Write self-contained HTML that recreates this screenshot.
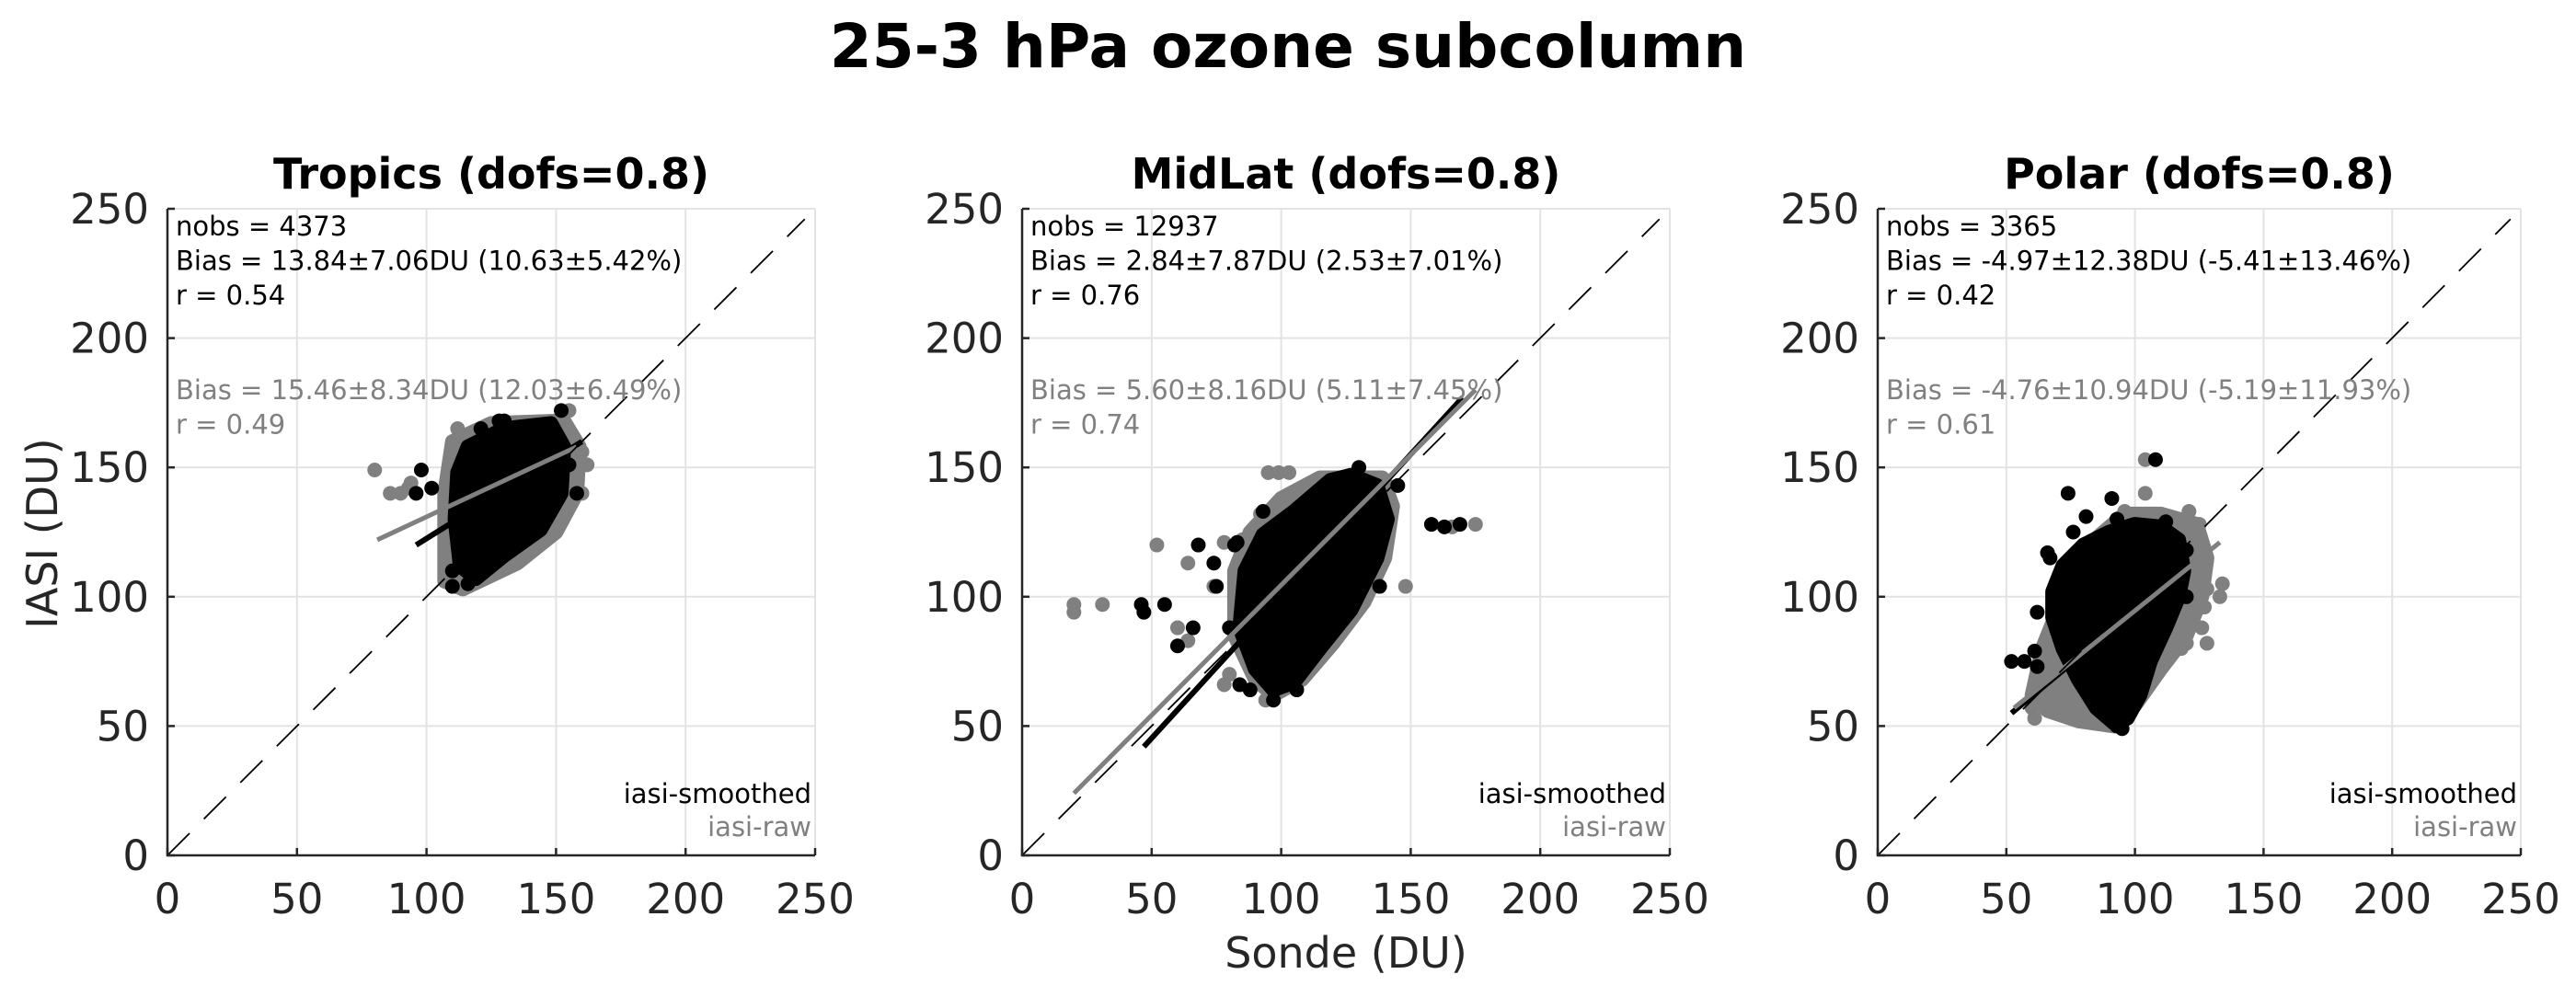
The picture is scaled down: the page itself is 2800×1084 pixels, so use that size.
<!DOCTYPE html>
<html><head><meta charset="utf-8">
<style>
html,body{margin:0;padding:0;background:#fff;}
svg{display:block;font-family:"DejaVu Sans","Liberation Sans",sans-serif;}
</style></head>
<body>
<svg id="fig" width="2800" height="1084" viewBox="0 0 2800 1084" xmlns="http://www.w3.org/2000/svg">
<rect width="2800" height="1084" fill="#fff"/>
<text x="1400" y="73" text-anchor="middle" font-size="66" font-weight="bold" fill="#000">25-3 hPa ozone subcolumn</text>
<text transform="translate(62,580) rotate(-90)" text-anchor="middle" font-size="46" fill="#262626">IASI (DU)</text>
<text x="1463" y="1052" text-anchor="middle" font-size="46" fill="#262626">Sonde (DU)</text>
<g id="panels"></g>
</svg>
<script>
const ticks = [0, 50, 100, 150, 200, 250];
const titles = ["Tropics (dofs=0.8)", "MidLat (dofs=0.8)", "Polar (dofs=0.8)"];
const statsSmoothed = [
  ["nobs = 4373", "Bias = 13.84±7.06DU (10.63±5.42%)", "r = 0.54"],
  ["nobs = 12937", "Bias = 2.84±7.87DU (2.53±7.01%)", "r = 0.76"],
  ["nobs = 3365", "Bias = -4.97±12.38DU (-5.41±13.46%)", "r = 0.42"]
];
const statsRaw = [
  ["Bias = 15.46±8.34DU (12.03±6.49%)", "r = 0.49"],
  ["Bias = 5.60±8.16DU (5.11±7.45%)", "r = 0.74"],
  ["Bias = -4.76±10.94DU (-5.19±11.93%)", "r = 0.61"]
];
const rawCore = [
  [[107,106],[114,103],[135,113],[150,125],[158,140],[159,158],[153,168],[125,167],[110,160],[107,140]],
  [[82,85],[90,68],[97,62],[108,68],[120,82],[132,98],[140,115],[143,135],[139,146],[115,146],[100,138],[88,125],[82,110]],
  [[60,62],[66,56],[78,52],[92,50],[100,58],[110,72],[120,85],[126,100],[128,115],[124,128],[110,132],[96,132],[82,120],[72,100],[64,80]]
];
const smoothCore = [
  [[113,112],[119,107],[130,116],[144,126],[152,140],[153,158],[148,167],[130,165],[116,158],[112,148],[111,130]],
  [[84,88],[90,72],[97,64],[105,67],[115,80],[127,95],[137,115],[141,130],[137,143],[127,147],[119,145],[105,133],[93,124],[86,110]],
  [[68,102],[72,112],[80,120],[90,125],[100,128],[110,127],[117,122],[119,110],[117,100],[112,88],[106,75],[102,62],[97,53],[92,51],[85,57],[78,68],[72,80],[68,92]]
];
const rawPoints = [
  [[80,149],[86,140],[90,140],[93,142],[94,144],[108,110],[108,113],[110,104],[112,104],[112,165],[160,156],[162,151],[160,140],[155,172],[118,158],[150,165]],
  [[20,97],[20,94],[31,97],[52,120],[64,113],[60,88],[64,83],[74,104],[78,121],[80,70],[78,66],[94,60],[92,132],[95,148],[148,104],[166,127],[175,128],[141,143],[85,122],[106,67],[99,148],[103,148]],
  [[60,57],[61,53],[104,153],[104,140],[96,133],[121,133],[125,128],[126,112],[128,103],[127,96],[126,88],[134,105],[133,100],[110,80],[118,80],[120,82],[128,82],[66,80],[64,70]]
];
const smoothPoints = [
  [[96,140],[98,149],[102,142],[110,110],[110,104],[116,105],[121,165],[128,168],[152,172],[155,151],[158,140],[142,128],[130,168],[148,166]],
  [[46,97],[47,94],[55,97],[68,120],[74,113],[60,81],[66,88],[75,104],[83,121],[82,120],[80,88],[84,66],[88,64],[97,60],[106,64],[138,104],[158,128],[163,127],[169,128],[145,143],[93,133],[130,150]],
  [[52,75],[57,75],[61,79],[62,73],[66,117],[67,115],[74,140],[76,125],[81,131],[91,138],[93,130],[74,105],[62,94],[69,90],[108,153],[112,129],[120,100],[120,118],[93,50],[95,49]]
];
const rawFit = [[[81,122],[158,158]], [[20,24],[175,180]], [[53,57],[133,121]]];
const smoothFit = [[[96,120],[160,160]], [[47,42],[170,177]], [[52,55],[120,111]]];

const NS = "http://www.w3.org/2000/svg";
const boxes = [[182,886],[1111,1815],[2041,2740]];
const top0 = 227, bot0 = 930;
const root = document.getElementById("panels");
function mk(tag, attrs, parent){
  const e = document.createElementNS(NS, tag);
  for (const k in attrs) e.setAttribute(k, attrs[k]);
  parent.appendChild(e);
  return e;
}
for (let p = 0; p < 3; p++) {
  const L = boxes[p][0], R = boxes[p][1];
  const sx = v => L + v / 250 * (R - L);
  const sy = v => bot0 - v / 250 * (bot0 - top0);
  const g = mk("g", {}, root);
  
  
  ticks.forEach(t => {
    const gx = mk("line", {x1:sx(t),x2:sx(t),y1:top0,y2:bot0,stroke:"#e3e3e3","stroke-width":2}, g);
    
    
    const gy = mk("line", {x1:L,x2:R,y1:sy(t),y2:sy(t),stroke:"#e3e3e3","stroke-width":2}, g);
    
    
  });
  const pts = a => a.map(q => sx(q[0]) + "," + sy(q[1])).join(" ");
  const rc = mk("polygon", {points:pts(rawCore[p]), fill:"#808080", stroke:"#808080","stroke-width":16,"stroke-linejoin":"round"}, g);
  
  
  rawPoints[p].forEach(q => {
    const c = mk("circle", {cx:sx(q[0]), cy:sy(q[1]), r:8, fill:"#808080"}, g);
    
    
  });
  const sc = mk("polygon", {points:pts(smoothCore[p]), fill:"#000", stroke:"#000","stroke-width":16,"stroke-linejoin":"round"}, g);
  
  
  smoothPoints[p].forEach(q => {
    const c = mk("circle", {cx:sx(q[0]), cy:sy(q[1]), r:8, fill:"#000"}, g);
    
    
  });
  const bf = smoothFit[p];
  const bl = mk("line", {x1:sx(bf[0][0]),y1:sy(bf[0][1]),x2:sx(bf[1][0]),y2:sy(bf[1][1]),stroke:"#000","stroke-width":6}, g);
  
  
  const gf = rawFit[p];
  const gl = mk("line", {x1:sx(gf[0][0]),y1:sy(gf[0][1]),x2:sx(gf[1][0]),y2:sy(gf[1][1]),stroke:"#808080","stroke-width":5}, g);
  
  
  const d = mk("line", {x1:sx(0),y1:sy(0),x2:sx(246),y2:sy(246),stroke:"#000","stroke-width":1.8,"stroke-dasharray":"34 22"}, g);
  
  
  const ax = mk("path", {d:`M${L},${top0}V${bot0}H${R}`, fill:"none", stroke:"#262626","stroke-width":2.5}, g);
  
  
  ticks.forEach(t => {
    const tx = mk("line", {x1:sx(t),x2:sx(t),y1:bot0,y2:bot0-8,stroke:"#262626","stroke-width":2.5}, g);
    
    
    const ty = mk("line", {x1:L,x2:L+8,y1:sy(t),y2:sy(t),stroke:"#262626","stroke-width":2.5}, g);
    
    
    const xl = mk("text", {x:sx(t), y:993, "text-anchor":"middle","font-size":45, fill:"#262626"}, g);
    xl.textContent = t;
    
    
    const yl = mk("text", {x:L-20, y:sy(t)+16, "text-anchor":"end","font-size":45, fill:"#262626"}, g);
    yl.textContent = t;
    
    
  });
  const tt = mk("text", {x:(L+R)/2, y:205, "text-anchor":"middle","font-size":46,"font-weight":"bold", fill:"#000"}, g);
  tt.textContent = titles[p];
  
  
  statsSmoothed[p].forEach((s, i) => {
    const e = mk("text", {x:L+9, y:256+i*37.5, "font-size":29, fill:"#000"}, g);
    e.textContent = s;
    
    
  });
  statsRaw[p].forEach((s, i) => {
    const e = mk("text", {x:L+9, y:434+i*37.5, "font-size":29, fill:"#808080"}, g);
    e.textContent = s;
    
    
  });
  const le1 = mk("text", {x:R-4, y:873, "text-anchor":"end","font-size":29, fill:"#000"}, g);
  le1.textContent = "iasi-smoothed";
  
  
  const le2 = mk("text", {x:R-4, y:909, "text-anchor":"end","font-size":29, fill:"#808080"}, g);
  le2.textContent = "iasi-raw";
  
  
}
</script>
</body></html>
